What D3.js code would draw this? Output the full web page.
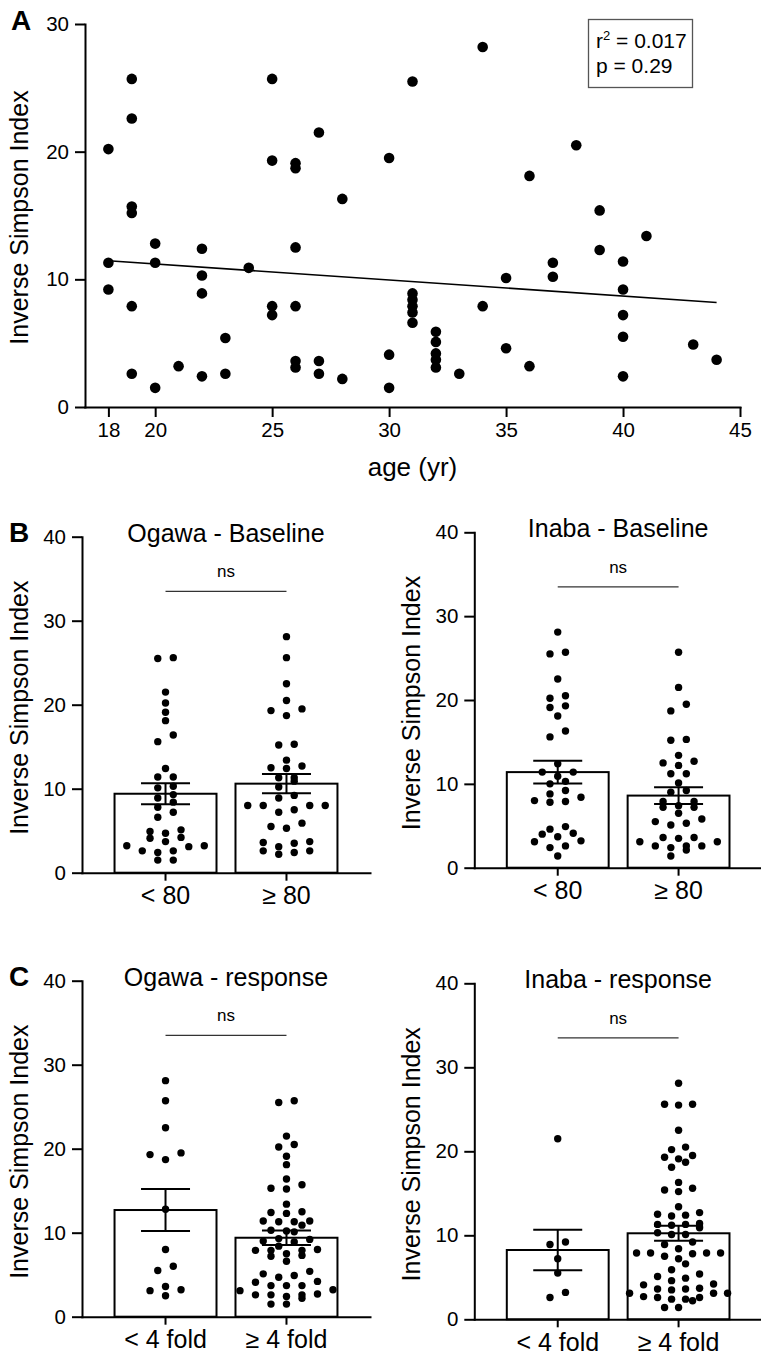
<!DOCTYPE html>
<html><head><meta charset="utf-8">
<script src="https://cdn.jsdelivr.net/npm/d3@7"></script>
<style>
body{margin:0;background:#fff;}
svg text{font-family:"Liberation Sans",Arial,Helvetica,sans-serif;fill:#000;}
</style>
</head><body>
<svg id="c" width="761" height="1358"></svg>
<script>
// ---------- Panel A data ----------
const ageX = [18,18,18,19,19,19,19,19,19,20,20,20,21,22,22,22,22,23,23,24,25,25,25,25,26,26,26,26,26,26,27,27,27,28,28,
  30,30,30,31,31,31,31,31,31,32,32,32,32,32,33,34,34,35,35,36,36,37,37,38,39,39,40,40,40,40,40,41,43,44];
const simpsonA = [20.2,11.3,9.2,25.7,22.6,15.7,15.2,7.9,2.6,12.8,11.3,1.5,3.2,12.4,10.3,8.9,2.4,5.4,2.6,10.9,25.7,19.3,7.9,7.2,19.1,18.7,12.5,7.9,3.6,3.1,21.5,3.6,2.6,16.3,2.2,
  19.5,4.1,1.5,25.5,8.9,8.4,7.9,7.4,6.6,5.9,5.1,4.2,3.7,3.1,2.6,28.2,7.9,10.1,4.6,18.1,3.2,11.3,10.2,20.5,15.4,12.3,11.4,9.2,7.2,5.5,2.4,13.4,4.9,3.7];
const fitX = [18, 44];
const fitY = [11.46, 8.19];
const ageTicks = [18,20,25,30,35,40,45];
const yTicksA = [0,10,20,30];
const statLines = ["0.017", "0.29"];

// ---------- Panels B / C data ----------
const baseCats = ["< 80", "\u2265 80"];
const respCats = ["< 4 fold", "\u2265 4 fold"];
const yTicksBar = [0,10,20,30,40];

const ogawaBaseLow = [25.6,25.5,21.5,20.2,19.1,18.1,16.4,15.6,12.4,11.4,11.4,10.1,10.3,9.3,8.9,8.4,7.2,7.8,6.6,4.9,5.1,4.7,4.2,4.1,3.7,3.1,3.2,3.2,2.6,2.6,2.4,1.5,1.5];
const ogawaBaseHigh = [28.1,25.6,22.5,20.5,19.5,19.3,18.7,15.3,15.2,13.4,12.4,12.5,12.7,11.3,11.3,10.2,10.9,8.9,9.2,8.0,8.0,8.0,8.0,7.2,7.5,5.9,5.5,5.3,3.7,3.6,3.5,3.1,2.6,2.4,2.6,2.2];
const ogawaBaseMean = [9.4, 10.6];
const ogawaBaseSem = [1.25, 1.15];

const inabaBaseLow = [28.1,25.7,25.5,22.5,20.5,20.2,19.3,19.1,18.1,16.3,15.6,12.4,11.4,11.4,10.9,10.0,10.3,9.2,8.8,8.4,8.0,7.8,7.9,4.9,4.0,4.1,4.6,3.2,3.1,3.7,2.6,2.4,1.4];
const inabaBaseHigh = [25.7,21.5,19.5,18.7,15.3,15.2,12.7,12.2,12.5,13.4,11.2,11.2,10.1,9.0,9.2,7.9,7.2,7.2,7.4,7.9,6.5,5.5,5.8,5.1,5.3,3.5,3.1,3.1,3.6,3.6,2.6,2.4,2.1,2.6,2.6,1.4];
const inabaBaseMean = [11.4, 8.6];
const inabaBaseSem = [1.35, 1.0];

const ogawaRespLow = [28.1,25.7,22.5,19.3,19.5,18.7,12.8,8.0,5.5,6.0,3.6,3.2,3.1,2.5];
const ogawaRespHigh = [25.5,25.7,21.5,20.2,20.5,19.1,18.1,15.7,16.4,15.3,15.2,13.4,12.3,12.5,12.4,11.3,11.4,11.3,11.4,10.2,10.9,10.3,10.1,9.0,8.9,9.3,9.2,7.9,7.9,8.0,8.4,7.9,7.5,7.2,7.3,6.6,5.4,4.9,5.1,4.7,4.2,4.1,3.1,3.7,3.7,3.2,3.7,2.4,2.7,2.2,2.6,2.6,2.6,1.5,1.5];
const ogawaRespMean = [12.7, 9.4];
const ogawaRespSem = [2.5, 0.87];

const inabaRespLow = [21.5,8.9,9.2,7.2,5.5,2.6,3.2];
const inabaRespHigh = [28.1,25.6,25.6,25.5,22.5,20.2,20.5,19.3,19.1,18.7,19.5,18.1,16.3,15.2,15.4,15.6,13.4,12.4,12.3,12.5,12.7,11.4,11.3,11.2,11.3,10.9,10.3,10.1,10.1,9.2,8.9,8.4,7.9,7.5,7.8,7.9,7.2,7.9,7.9,6.6,5.9,5.4,4.9,5.1,4.6,3.6,4.1,3.7,4.2,3.5,3.1,3.1,3.6,2.4,3.1,2.6,2.7,2.4,2.2,2.6,1.4,1.4];
const inabaRespMean = [8.25, 10.24];
const inabaRespSem = [2.4, 0.9];

const nsLevel = 33.5;

// ---------- drawing ----------
const svg = d3.select('#c');
const FONT_TICK = 20.5, FONT_AXIS = 25, FONT_CAT = 25, FONT_TITLE = 25, FONT_LETTER = 28;

function styleAxis(g) {
  g.select('.domain').attr('stroke','#000').attr('stroke-width',2).attr('stroke-linecap','square');
  g.selectAll('.tick line').attr('stroke','#000').attr('stroke-width',2);
  g.selectAll('.tick text').attr('font-size',FONT_TICK).attr('font-family','"Liberation Sans",Arial,sans-serif').attr('fill','#000');
}

// Panel A
(function(){
  const ax = d3.scaleLinear().domain([17,45]).range([85,740]);
  const ay = d3.scaleLinear().domain([0,30]).range([407,24]);
  const g = svg.append('g');
  g.append('g').attr('transform','translate(0,407)')
    .call(d3.axisBottom(ax).tickValues(ageTicks).tickSize(10).tickSizeOuter(0).tickPadding(5))
    .call(styleAxis);
  g.append('g').attr('transform','translate(85,0)')
    .call(d3.axisLeft(ay).tickValues(yTicksA).tickSize(10).tickSizeOuter(0).tickPadding(6))
    .call(styleAxis);
  g.selectAll('circle.pt').data(ageX.map((a,i)=>[a,simpsonA[i]])).join('circle')
    .attr('class','pt').attr('cx',d=>ax(d[0])).attr('cy',d=>ay(d[1])).attr('r',5.3).attr('fill','#000');
  g.append('path').datum(fitX.map((x,i)=>[x,fitY[i]]))
    .attr('d', d3.line().x(d=>ax(d[0])).y(d=>ay(d[1])))
    .attr('stroke','#000').attr('stroke-width',1.6).attr('fill','none');
  g.append('text').attr('x',(ax.range()[0]+ax.range()[1])/2).attr('y',476).attr('text-anchor','middle')
    .attr('font-size',26).text('age (yr)');
  g.append('text').attr('transform',`translate(28,${(24+407)/2 + 2}) rotate(-90)`).attr('text-anchor','middle')
    .attr('font-size',FONT_AXIS).text('Inverse Simpson Index');
  g.append('text').attr('x',11).attr('y',30).attr('font-size',FONT_LETTER).attr('font-weight','bold').text('A');
  // stats box
  g.append('rect').attr('x',588.5).attr('y',19.5).attr('width',104).attr('height',68)
    .attr('fill','#fff').attr('stroke','#555').attr('stroke-width',1.3);
  const t1 = g.append('text').attr('x',596).attr('y',48).attr('font-size',21);
  t1.append('tspan').text('r');
  t1.append('tspan').attr('font-size',13).attr('dy',-8).text('2');
  t1.append('tspan').attr('dy',8).text(' = ' + statLines[0]);
  g.append('text').attr('x',596).attr('y',73).attr('font-size',21).text('p = ' + statLines[1]);
})();

function swarm(values, yScale, maxStep, maxWidth, thr) {
  const pts = values.map(v => ({v, y: yScale(v)})).sort((a,b)=>a.v-b.v);
  const rows = []; let cur = null;
  pts.forEach(p => {
    if (!cur || Math.abs(p.y - cur[0].y) >= thr) { cur = [p]; rows.push(cur); }
    else cur.push(p);
  });
  const maxN = d3.max(rows, r => r.length);
  const step = maxN > 1 ? Math.min(maxStep, maxWidth/(maxN-1)) : maxStep;
  rows.forEach(row => {
    const n = row.length;
    const offs = d3.range(n).map(i => i - (n-1)/2).sort((a,b)=>Math.abs(a)-Math.abs(b) || a-b);
    row.forEach((p,i) => p.dx = offs[i]*step);
  });
  return pts;
}

function barPanel(cfg) {
  const g = svg.append('g');
  const x = d3.scaleBand().domain(cfg.cats).range([cfg.x0, cfg.x1]).paddingInner(0.157).paddingOuter(0.269);
  const y = d3.scaleLinear().domain([0,40]).range([cfg.yb, cfg.yt]);
  // bars
  g.selectAll('rect.bar').data(cfg.cats).join('rect').attr('class','bar')
    .attr('x',d=>x(d)).attr('width',x.bandwidth())
    .attr('y',(d,i)=>y(cfg.means[i])).attr('height',(d,i)=>y(0)-y(cfg.means[i]))
    .attr('fill','#fff').attr('stroke','#000').attr('stroke-width',2);
  // dots
  cfg.groups.forEach((vals,i) => {
    const cx = x(cfg.cats[i]) + x.bandwidth()/2;
    const pts = swarm(vals, y, 15.5, 98, 7.5);
    g.selectAll(null).data(pts).join('circle')
      .attr('cx',p=>cx+p.dx).attr('cy',p=>p.y).attr('r',3.7).attr('fill','#000');
  });
  // error bars
  cfg.cats.forEach((c,i) => {
    const cx = x(c) + x.bandwidth()/2;
    const hi = y(cfg.means[i]+cfg.sems[i]), lo = y(cfg.means[i]-cfg.sems[i]);
    g.append('line').attr('x1',cx).attr('x2',cx).attr('y1',hi).attr('y2',lo).attr('stroke','#000').attr('stroke-width',2);
    [hi,lo].forEach(yy => g.append('line').attr('x1',cx-24.5).attr('x2',cx+24.5).attr('y1',yy).attr('y2',yy)
      .attr('stroke','#000').attr('stroke-width',2));
  });
  // axes
  g.append('g').attr('transform',`translate(0,${cfg.yb})`)
    .call(d3.axisBottom(x).tickSize(8).tickSizeOuter(0).tickPadding(6))
    .call(styleAxis)
    .call(a => a.selectAll('.tick text').attr('font-size',FONT_CAT));
  g.append('g').attr('transform',`translate(${cfg.x0},0)`)
    .call(d3.axisLeft(y).tickValues(yTicksBar).tickSize(10).tickSizeOuter(0).tickPadding(6))
    .call(styleAxis);
  // ns bracket
  const c1 = x(cfg.cats[0]) + x.bandwidth()/2, c2 = x(cfg.cats[1]) + x.bandwidth()/2;
  g.append('line').attr('x1',c1).attr('x2',c2).attr('y1',y(nsLevel)).attr('y2',y(nsLevel))
    .attr('stroke','#333').attr('stroke-width',1.2);
  g.append('text').attr('x',(c1+c2)/2).attr('y',y(nsLevel)-14).attr('text-anchor','middle')
    .attr('font-size',17).text('ns');
  // title
  g.append('text').attr('x',(cfg.x0+cfg.x1)/2).attr('y',cfg.yt+5).attr('text-anchor','middle')
    .attr('font-size',FONT_TITLE).text(cfg.title);
  // y label
  g.append('text').attr('transform',`translate(${cfg.x0-54},${(cfg.yt+cfg.yb)/2 + 3}) rotate(-90)`)
    .attr('text-anchor','middle').attr('font-size',FONT_AXIS).text('Inverse Simpson Index');
  if (cfg.letter) g.append('text').attr('x',9).attr('y',cfg.yt+5).attr('font-size',FONT_LETTER).attr('font-weight','bold').text(cfg.letter);
}

barPanel({x0:82, x1:370, yt:536.7, yb:872.7, cats:baseCats, groups:[ogawaBaseLow, ogawaBaseHigh],
  means:ogawaBaseMean, sems:ogawaBaseSem, title:'Ogawa - Baseline', letter:'B'});
barPanel({x0:474.3, x1:762, yt:532.3, yb:867.7, cats:baseCats, groups:[inabaBaseLow, inabaBaseHigh],
  means:inabaBaseMean, sems:inabaBaseSem, title:'Inaba - Baseline'});
barPanel({x0:82, x1:370, yt:980.7, yb:1316.7, cats:respCats, groups:[ogawaRespLow, ogawaRespHigh],
  means:ogawaRespMean, sems:ogawaRespSem, title:'Ogawa - response', letter:'C'});
barPanel({x0:474.3, x1:762, yt:983.3, yb:1319.3, cats:respCats, groups:[inabaRespLow, inabaRespHigh],
  means:inabaRespMean, sems:inabaRespSem, title:'Inaba - response'});
</script>
</body></html>
